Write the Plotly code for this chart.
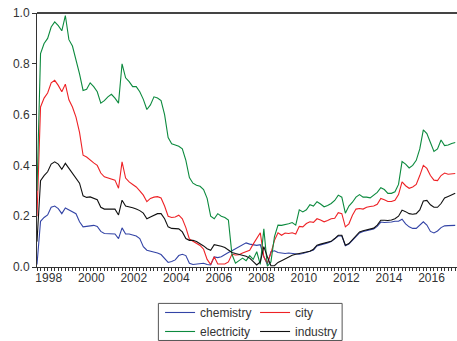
import numpy as np
import plotly.graph_objects as go

# time index: bi-monthly observations starting mid-1997 (decimal years)
n_obs = 119
t = 1997.45 + np.arange(n_obs) / 6.0

chemistry = [
    0.01, 0.18, 0.195, 0.205, 0.235, 0.24, 0.23, 0.21, 0.232, 0.224,
    0.215, 0.21, 0.178, 0.158, 0.16, 0.162, 0.164, 0.16, 0.14, 0.132,
    0.132, 0.13, 0.13, 0.112, 0.154, 0.13, 0.13, 0.126, 0.122, 0.112,
    0.08, 0.066, 0.063, 0.059, 0.055, 0.049, 0.033, 0.018, 0.022, 0.028,
    0.045, 0.05, 0.045, 0.015, 0.01, 0.012, 0.013, 0.015, 0.01, 0.008,
    0.04, 0.037, 0.04, 0.05, 0.057, 0.064, 0.072, 0.08, 0.085, 0.095,
    0.09, 0.088, 0.085, 0.088, 0.04, 0.01, 0.06, 0.064, 0.057, 0.055,
    0.053, 0.055, 0.054, 0.052, 0.05, 0.053, 0.059, 0.062, 0.067, 0.083,
    0.087, 0.09, 0.095, 0.1, 0.11, 0.122, 0.122, 0.084, 0.09, 0.106,
    0.122, 0.134, 0.14, 0.143, 0.146, 0.15, 0.16, 0.177, 0.175, 0.175,
    0.177, 0.18, 0.18, 0.188, 0.17, 0.158, 0.152, 0.152, 0.165, 0.178,
    0.165, 0.14, 0.134, 0.142, 0.155, 0.162, 0.163, 0.163, 0.164,
]

city = [
    0.20, 0.63, 0.665, 0.685, 0.725, 0.735, 0.715, 0.69, 0.72, 0.658,
    0.63, 0.59, 0.53, 0.44, 0.433, 0.42, 0.41, 0.40, 0.37, 0.355,
    0.35, 0.345, 0.342, 0.31, 0.414, 0.35, 0.335, 0.325, 0.315, 0.30,
    0.283, 0.257, 0.27, 0.275, 0.277, 0.272, 0.24, 0.20, 0.195, 0.197,
    0.204, 0.19, 0.155, 0.11, 0.102, 0.093, 0.085, 0.07, 0.03, 0.01,
    0.04, 0.012, 0.013, 0.012, 0.02, 0.05, 0.047, 0.048, 0.055, 0.06,
    0.066, 0.09, 0.112, 0.135, 0.04, 0.015, 0.055, 0.105, 0.135, 0.125,
    0.134, 0.132, 0.135, 0.13, 0.16, 0.158, 0.171, 0.178, 0.176, 0.19,
    0.185, 0.178, 0.183, 0.19, 0.192, 0.214, 0.21, 0.158, 0.17, 0.204,
    0.228, 0.23, 0.228, 0.235, 0.238, 0.24, 0.247, 0.27, 0.265, 0.258,
    0.258, 0.263, 0.285, 0.335, 0.32, 0.31, 0.315, 0.325, 0.36, 0.40,
    0.388, 0.36, 0.342, 0.34, 0.36, 0.37, 0.365, 0.366, 0.368,
]

electricity = [
    0.30, 0.84, 0.88, 0.90, 0.945, 0.965, 0.95, 0.93, 0.99, 0.895,
    0.87, 0.82, 0.76, 0.695, 0.70, 0.725, 0.71, 0.69, 0.645, 0.655,
    0.67, 0.68, 0.665, 0.645, 0.80, 0.745, 0.73, 0.71, 0.71, 0.69,
    0.66, 0.62, 0.638, 0.67, 0.665, 0.655, 0.60, 0.51, 0.485, 0.48,
    0.475, 0.465, 0.42, 0.352, 0.33, 0.322, 0.318, 0.305, 0.27, 0.20,
    0.19, 0.21, 0.20, 0.195, 0.185, 0.05, 0.015, 0.025, 0.035, 0.025,
    0.045, 0.03, 0.06, 0.01, 0.15, 0.003, 0.02, 0.12, 0.165, 0.164,
    0.166, 0.17, 0.175, 0.165, 0.225, 0.217, 0.225, 0.245, 0.24, 0.257,
    0.248, 0.237, 0.242, 0.25, 0.262, 0.283, 0.275, 0.212, 0.24, 0.255,
    0.275, 0.285, 0.275, 0.275, 0.272, 0.283, 0.294, 0.312, 0.305, 0.29,
    0.29, 0.296, 0.325, 0.415, 0.405, 0.39, 0.40, 0.42, 0.465, 0.54,
    0.525, 0.49, 0.455, 0.465, 0.50, 0.478, 0.48, 0.486, 0.49,
]

industry = [
    0.10, 0.34, 0.36, 0.375, 0.405, 0.414, 0.405, 0.385, 0.408, 0.388,
    0.37, 0.35, 0.33, 0.28, 0.274, 0.276, 0.27, 0.265, 0.235, 0.228,
    0.228, 0.228, 0.228, 0.205, 0.263, 0.24, 0.237, 0.233, 0.228, 0.222,
    0.212, 0.19, 0.197, 0.205, 0.21, 0.21, 0.19, 0.158, 0.152, 0.151,
    0.15, 0.138, 0.112, 0.105, 0.105, 0.10, 0.092, 0.083, 0.072, 0.066,
    0.088, 0.086, 0.082, 0.077, 0.068, 0.057, 0.053, 0.05, 0.045, 0.042,
    0.035, 0.02, 0.008, 0.02, 0.08, 0.04, 0.005, 0.005, 0.018, 0.025,
    0.033, 0.04, 0.046, 0.05, 0.053, 0.055, 0.059, 0.062, 0.07, 0.086,
    0.09, 0.093, 0.097, 0.101, 0.112, 0.125, 0.125, 0.086, 0.092, 0.108,
    0.125, 0.138, 0.143, 0.147, 0.149, 0.153, 0.165, 0.184, 0.184, 0.183,
    0.185, 0.19, 0.20, 0.224, 0.218, 0.21, 0.208, 0.21, 0.225, 0.26,
    0.262, 0.245, 0.235, 0.235, 0.25, 0.272, 0.278, 0.283, 0.29,
]

year_labels = [1998, 2000, 2002, 2004, 2006, 2008, 2010, 2012, 2014, 2016]
major_ticks = [1997.45 + 2 * i for i in range(10)]
y_ticks = [0.0, 0.2, 0.4, 0.6, 0.8, 1.0]

# legend columns: (chemistry, electricity) | (city, industry)
series = [
    ("chemistry", chemistry, "#3344a6", "col1"),
    ("city", city, "#ee2226", "col2"),
    ("electricity", electricity, "#0c8a3e", "col1"),
    ("industry", industry, "#111111", "col2"),
]

fig = go.Figure()
for name, vals, col, grp in series:
    fig.add_trace(go.Scatter(x=t, y=vals, name=name, mode="lines",
                             legendgroup=grp,
                             line=dict(color=col, width=1.1),
                             hoverinfo="skip"))

x_range = [1997.45, 2017.2]
font = dict(family="Liberation Sans, Arial, sans-serif", size=12, color="#333333")

fig.update_layout(
    width=457, height=341,
    margin=dict(l=36.5, r=0, t=13.3, b=74.3, autoexpand=False),
    paper_bgcolor="white", plot_bgcolor="white",
    font=font,
    showlegend=True,
    legend=dict(orientation="h", x=0.293, xanchor="left", y=-0.122, yanchor="top",
                traceorder="grouped",
                borderwidth=0, bgcolor="rgba(0,0,0,0)",
                entrywidth=50, itemwidth=30, font=font, tracegroupgap=0),
    xaxis=dict(range=x_range, showgrid=False, zeroline=False,
               tickmode="array", tickvals=year_labels,
               ticktext=[str(y) for y in year_labels],
               ticks="", showline=True, linecolor="#333333", linewidth=1,
               mirror=False,
               minor=dict(ticks="outside", tickmode="linear", tick0=1997.45,
                          dtick=1 / 6, ticklen=3, tickcolor="#333333", tickwidth=1,
                          showgrid=False)),
    xaxis2=dict(range=x_range, overlaying="x", anchor="y", side="bottom",
                showgrid=False, zeroline=False, tickmode="array",
                tickvals=major_ticks, showticklabels=False,
                ticks="outside", ticklen=6, tickcolor="#333333", tickwidth=1,
                showline=False),
    yaxis=dict(range=[0, 1.0], tickmode="array", tickvals=y_ticks,
               tickformat=".1f", ticks="outside", ticklen=4,
               ticklabeloverflow="allow",
               tickcolor="#333333", showgrid=False, zeroline=False,
               showline=True, linecolor="#333333", linewidth=1),
    shapes=[
        dict(type="line", xref="paper", yref="paper", x0=0, x1=1, y0=1, y1=1,
             line=dict(color="#444444", width=2)),
        # legend frame
        dict(type="rect", xref="paper", yref="paper", x0=0.289, x1=0.7265,
             y0=-0.2893, y1=-0.1433, line=dict(color="#555555", width=1),
             fillcolor="rgba(0,0,0,0)"),
    ],
)

# remove the default page margin so the 457x341 figure fills the window exactly
fig.write_html("out.html",
               config={"displayModeBar": False, "staticPlot": True},
               post_script="document.body.style.margin='0px';"
                           "document.body.style.overflow='hidden';")
